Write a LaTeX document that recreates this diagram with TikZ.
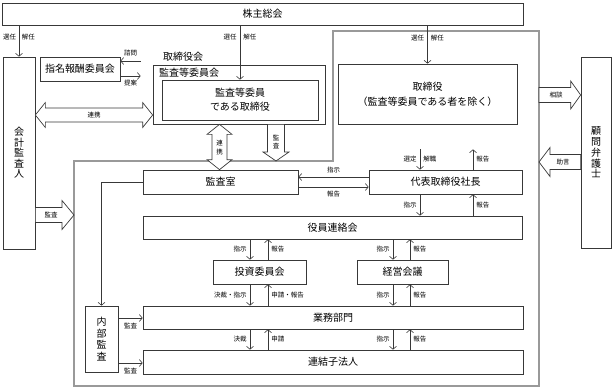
\documentclass[tikz,border=0pt]{standalone}
\usepackage{fontspec}
\setmainfont{Noto Sans CJK JP}
\usetikzlibrary{arrows.meta,calc}
\begin{document}
\begin{tikzpicture}[x=1pt,y=-1pt,
  lc/.style={draw=black!78, line width=0.7pt},
  box/.style={lc, rectangle, inner sep=0pt, font=\fontsize{10}{11}\selectfont, align=center},
  sz/.style 2 args={minimum width=#1pt, minimum height=#2pt},
  ttl/.style={inner sep=0pt, anchor=west, font=\fontsize{10}{11}\selectfont},
  lab/.style={inner sep=0pt, font=\fontsize{6.5}{7}\selectfont},
  vlab/.style={inner sep=0pt, align=center, font=\fontsize{6.5}{8.5}\selectfont},
  arr/.style={draw=black!78, line width=0.6pt, -{Straight Barb[length=3pt,width=7pt]}},
  blk/.style={lc, fill=white, line join=miter},
  grayline/.style={draw=black!40, line width=2.4pt}
]
\useasboundingbox (0,0) rectangle (613,388);

% boxes
\node[box, sz={521}{22}] (sh) at (262.5,14) {株主総会};
\node[box, sz={32}{192}, font=\fontsize{10}{10.5}\selectfont] (kaikei) at (19,153) {会\\計\\監\\査\\人};
\node[box, sz={80}{24}] (shimei) at (80,69) {指名報酬委員会};
\node[box, sz={382}{101}, double, double distance=2.2pt] (bod) at (333.5,97) {};
\node[ttl] (bodt) at (163,57) {取締役会};
\node[box, sz={172}{59}] (ac) at (239,94.5) {};
\node[ttl] (act) at (159,72.5) {監査等委員会};
\node[box, sz={156}{40}, font=\fontsize{10}{14}\selectfont] (acd) at (240,100) {監査等委員\\である取締役};
\node[box, sz={179}{60}, font=\fontsize{10}{15}\selectfont] (dir) at (427.5,94) {取締役\\（監査等委員である者を除く）};
\node[box, sz={155}{24}] (kansa) at (220.5,182) {監査室};
\node[box, sz={153}{24}] (ceo) at (445.5,182) {代表取締役社長};
\node[box, sz={379}{23}] (yak) at (332.5,227.5) {役員連絡会};
\node[box, sz={93}{24}] (toushi) at (259.5,272) {投資委員会};
\node[box, sz={91}{24}] (keiei) at (402.5,272) {経営会議};
\node[box, sz={380}{23}] (gyomu) at (333,317.5) {業務部門};
\node[box, sz={380}{24}] (ren) at (333,362) {連結子法人};
\node[box, sz={33}{66}, font=\fontsize{10}{11.5}\selectfont] (naibu) at (101.5,339) {内\\部\\監\\査};
\node[box, sz={30}{191}, font=\fontsize{10}{10.8}\selectfont] (komon) at (596,152.5) {顧\\問\\弁\\護\\士};

% gray frame
\draw[grayline] (333,31) -- (539,31) -- (539,386) -- (74,386) -- (74,161) -- (333,161) -- cycle;

\coordinate (bodB) at ($(bod.south)+(0,1.5)$);
\coordinate (bodW) at ($(bod.west)+(-1.5,0)$);

% shareholders arrows
\draw[arr] (sh.south -| kaikei.north) -- (kaikei.north)
  node[lab, pos=0.38, left=2.5pt]{選任} node[lab, pos=0.38, right=2.5pt]{解任};
\draw[arr] (sh.south -| acd.north) -- (acd.north)
  node[lab, pos=0.22, left=3pt]{選任} node[lab, pos=0.22, right=3pt]{解任};
\draw[arr] (sh.south -| dir.north) -- (dir.north)
  node[lab, pos=0.33, left=3pt]{選任} node[lab, pos=0.33, right=3pt]{解任};

% nomination committee
\draw[arr] (bodW |- 0,61) -- (shimei.east |- 0,61) node[lab, midway, above=4.5pt]{諮問};
\draw[arr] (shimei.east |- 0,76) -- (bodW |- 0,76) node[lab, midway, below=3.5pt]{提案};

% block arrows
\coordinate (r1) at (kaikei.east |- 0,115);
\coordinate (r2) at (ac.west |- 0,115);
\draw[blk] (r1) -- ++(10,-12.5) -- ++(0,5.5) -- ($(r2)+(-10,-7)$) -- ++(0,-5.5) -- (r2)
  -- ++(-10,12.5) -- ++(0,-5.5) -- ($(r1)+(10,7)$) -- ++(0,5.5) -- cycle;
\node[lab] at ($(r1)!0.5!(r2)$) {連携};

\coordinate (v1) at (219.5,0 |- ac.south);
\coordinate (v2) at (219.5,0 |- kansa.north);
\draw[blk] (v1) -- ++(12.5,10) -- ++(-5,0) -- ($(v2)+(7.5,-10)$) -- ++(5,0) -- (v2)
  -- ++(-12.5,-10) -- ++(5,0) -- ($(v1)+(-7.5,10)$) -- ++(-5,0) -- cycle;
\node[vlab] at (219.5,147.5) {連\\携};

\coordinate (k1) at (276,0 |- ac.south);
\coordinate (k2) at (276,161);
\draw[blk] ($(k1)+(-8.5,0)$) -- ($(k2)+(-8.5,-9)$) -- ++(-4.5,0) -- (k2) -- ++(13,-9)
  -- ++(-4.5,0) -- ($(k1)+(8.5,0)$) -- cycle;
\node[vlab] at (276,142) {監\\査};

\coordinate (s1) at (539,95);
\coordinate (s2) at (komon.west |- 0,95);
\draw[blk] ($(s1)+(0,-7.5)$) -- ($(s2)+(-10,-7.5)$) -- ++(0,-6.5) -- (s2) -- ++(-10,14)
  -- ++(0,-6.5) -- ($(s1)+(0,7.5)$) -- cycle;
\node[lab] at (556,95) {相談};

\coordinate (a1) at (komon.west |- 0,162);
\coordinate (a2) at (539,162);
\draw[blk] ($(a1)+(0,-7.5)$) -- ($(a2)+(11,-7.5)$) -- ++(0,-7) -- (a2) -- ++(11,14.5)
  -- ++(0,-7) -- ($(a1)+(0,7.5)$) -- cycle;
\node[lab] at (563,162) {助言};

\coordinate (b1) at (kaikei.east |- 0,215);
\coordinate (b2) at (74,215);
\draw[blk] ($(b1)+(0,-7.5)$) -- ($(b2)+(-12,-7.5)$) -- ++(0,-7) -- (b2) -- ++(-12,14.5)
  -- ++(0,-7) -- ($(b1)+(0,7.5)$) -- cycle;
\node[lab] at (51,215) {監査};

% board -> president
\draw[arr] (420,0 |- bodB) -- (420,0 |- ceo.north)
  node[lab, midway, left=3pt]{選定} node[lab, midway, right=3pt]{解職};
\draw[arr] (473,0 |- ceo.north) -- (473,0 |- bodB) node[lab, midway, right=3pt]{報告};

% audit office <-> president
\draw[arr] (ceo.west |- 0,177) -- (kansa.east |- 0,177) node[lab, midway, above=3.75pt]{指示};
\draw[arr] (kansa.east |- 0,187) -- (ceo.west |- 0,187) node[lab, midway, below=3.75pt]{報告};

% president -> executive meeting
\draw[arr] (420,0 |- ceo.south) -- (420,0 |- yak.north) node[lab, midway, left=3pt]{指示};
\draw[arr] (473,0 |- yak.north) -- (473,0 |- ceo.south) node[lab, midway, right=3pt]{報告};

% executive meeting -> committees
\draw[arr] (250,0 |- yak.south) -- (250,0 |- toushi.north) node[lab, midway, left=3pt]{指示};
\draw[arr] (268,0 |- toushi.north) -- (268,0 |- yak.south) node[lab, midway, right=3pt]{報告};
\draw[arr] (393,0 |- yak.south) -- (393,0 |- keiei.north) node[lab, midway, left=3pt]{指示};
\draw[arr] (410,0 |- keiei.north) -- (410,0 |- yak.south) node[lab, midway, right=3pt]{報告};

% committees -> business
\draw[arr] (250,0 |- toushi.south) -- (250,0 |- gyomu.north) node[lab, midway, left=3pt]{決裁・指示};
\draw[arr] (268,0 |- gyomu.north) -- (268,0 |- toushi.south) node[lab, midway, right=3pt]{申請・報告};
\draw[arr] (393,0 |- keiei.south) -- (393,0 |- gyomu.north) node[lab, midway, left=3pt]{指示};
\draw[arr] (410,0 |- gyomu.north) -- (410,0 |- keiei.south) node[lab, midway, right=3pt]{報告};

% business -> subsidiaries
\draw[arr] (250,0 |- gyomu.south) -- (250,0 |- ren.north) node[lab, midway, left=3pt]{決裁};
\draw[arr] (268,0 |- ren.north) -- (268,0 |- gyomu.south) node[lab, midway, right=3pt]{申請};
\draw[arr] (393,0 |- gyomu.south) -- (393,0 |- ren.north) node[lab, midway, left=3pt]{指示};
\draw[arr] (410,0 |- ren.north) -- (410,0 |- gyomu.south) node[lab, midway, right=3pt]{報告};

% internal audit
\draw[arr] (kansa.west) -| (naibu.north);
\draw[arr] (naibu.east |- 0,318) -- (gyomu.west |- 0,318) node[lab, midway, below=5pt]{監査};
\draw[arr] (naibu.east |- 0,363) -- (ren.west |- 0,363) node[lab, midway, below=5pt]{監査};
\end{tikzpicture}
\end{document}
